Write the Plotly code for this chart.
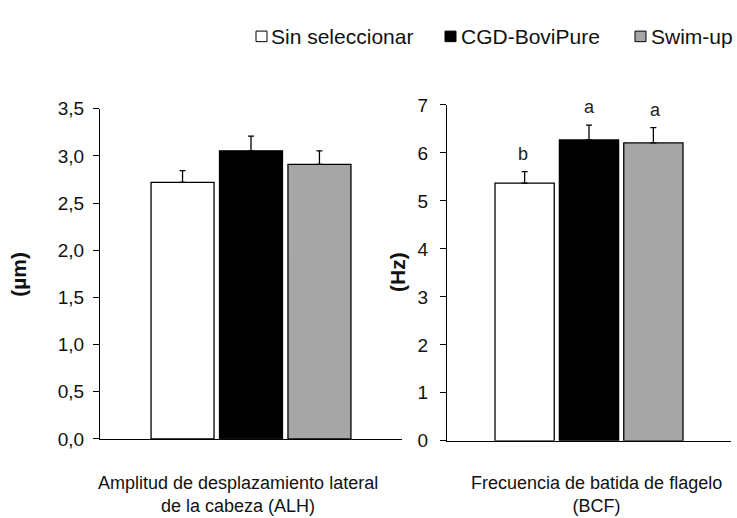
import plotly.graph_objects as go

# ---- data ----
groups = ["Sin seleccionar", "CGD-BoviPure", "Swim-up"]
colors = ["#ffffff", "#000000", "#a6a6a6"]
alh_vals = [2.72, 3.055, 2.91]
alh_err = [0.125, 0.155, 0.145]
bcf_vals = [5.37, 6.27, 6.21]
bcf_err = [0.24, 0.31, 0.32]
bcf_letters = ["b", "a", "a"]
alh_cat = ["ALH"]
bcf_cat = ["BCF"]
alh_ticks = [0, 0.5, 1.0, 1.5, 2.0, 2.5, 3.0, 3.5]
alh_ticktext = ["0,0", "0,5", "1,0", "1,5", "2,0", "2,5", "3,0", "3,5"]
bcf_ticks = [0, 1, 2, 3, 4, 5, 6, 7]

FONT = "Liberation Sans, Arial, sans-serif"
W, H = 737, 518

fig = go.Figure()
for i, g in enumerate(groups):
    fig.add_trace(go.Bar(
        x=alh_cat, y=[alh_vals[i]], name=g, marker=dict(color=colors[i], line=dict(color="#000", width=1.3)),
        error_y=dict(type="data", symmetric=False, array=[alh_err[i]], arrayminus=[0],
                     color="#000", thickness=1.3, width=3),
        xaxis="x", yaxis="y", offsetgroup=str(i), showlegend=False))
    fig.add_trace(go.Bar(
        x=bcf_cat, y=[bcf_vals[i]], name=g, marker=dict(color=colors[i], line=dict(color="#000", width=1.3)),
        error_y=dict(type="data", symmetric=False, array=[bcf_err[i]], arrayminus=[0],
                     color="#000", thickness=1.3, width=3),
        xaxis="x2", yaxis="y2", offsetgroup=str(i), showlegend=False))

# letters above error bars
for i in range(3):
    fig.add_annotation(x=bcf_cat[0], y=bcf_vals[i] + bcf_err[i], xref="x2", yref="y2",
                       text=bcf_letters[i], showarrow=False, yanchor="bottom", xanchor="center", yshift=6,
                       xshift=(i - 1) * 66.5,
                       font=dict(family=FONT, size=18, color="#222"))

axis_common = dict(showline=True, linecolor="#000", linewidth=1.2, showgrid=False, zeroline=False,
                   tickfont=dict(family=FONT, size=19, color="#111"))
fig.update_layout(
    width=W, height=H, margin=dict(l=0, r=0, t=0, b=0),
    paper_bgcolor="white", plot_bgcolor="white",
    barmode="group", bargap=0.32, bargroupgap=0.08,
    xaxis=dict(domain=[100 / W, 402 / W], anchor="y", showticklabels=False, ticks="",
               **axis_common),
    yaxis=dict(domain=[1 - 447 / H, 1 - 103 / H], anchor="x", range=[0, 3.5],
               tickvals=alh_ticks, ticktext=alh_ticktext, ticks="outside", ticklen=6, tickcolor="#000",
               ticklabelstandoff=5, **axis_common),
    xaxis2=dict(domain=[447 / W, 731 / W], anchor="y2", showticklabels=False, ticks="",
                **axis_common),
    yaxis2=dict(domain=[1 - 449 / H, 1 - 99 / H], anchor="x2", range=[0, 7],
                tickvals=bcf_ticks, ticks="outside", ticklen=6, tickcolor="#000",
                ticklabelstandoff=8, **axis_common),
)

# y titles
fig.add_annotation(x=19 / W, y=1 - 276 / H, xref="paper", yref="paper", text="<b>(µm)</b>",
                   textangle=-90, showarrow=False, xanchor="center", yanchor="middle",
                   font=dict(family=FONT, size=21, color="#111"))
fig.add_annotation(x=398 / W, y=1 - 273 / H, xref="paper", yref="paper", text="<b>(Hz)</b>",
                   textangle=-90, showarrow=False, xanchor="center", yanchor="middle",
                   font=dict(family=FONT, size=21, color="#111"))

# x titles
fig.add_annotation(x=238 / W, y=1 - 505 / H, xref="paper", yref="paper",
                   text="Amplitud de desplazamiento lateral<br>de la cabeza (ALH)",
                   showarrow=False, xanchor="center", yanchor="middle",
                   font=dict(family=FONT, size=18, color="#111"))
fig.add_annotation(x=596 / W, y=1 - 505 / H, xref="paper", yref="paper",
                   text="Frecuencia de batida de flagelo<br>(BCF)",
                   showarrow=False, xanchor="center", yanchor="middle",
                   font=dict(family=FONT, size=18, color="#111"))

# legend (manual)
leg_sq_x = [256, 445, 635]
leg_txt_x = [269, 459, 649]
for i, g in enumerate(groups):
    fig.add_shape(type="rect", xref="paper", yref="paper",
                  x0=leg_sq_x[i] / W, x1=(leg_sq_x[i] + 11) / W,
                  y0=1 - 33 / H, y1=1 - 22 / H,
                  fillcolor=colors[i], line=dict(color="#000", width=1))
    fig.add_annotation(x=leg_txt_x[i] / W, y=1 - 27.5 / H, xref="paper", yref="paper",
                       text=g, showarrow=False, xanchor="left", yanchor="middle",
                       font=dict(family=FONT, size=21, color="#111"))

fig.write_html("out.html")
